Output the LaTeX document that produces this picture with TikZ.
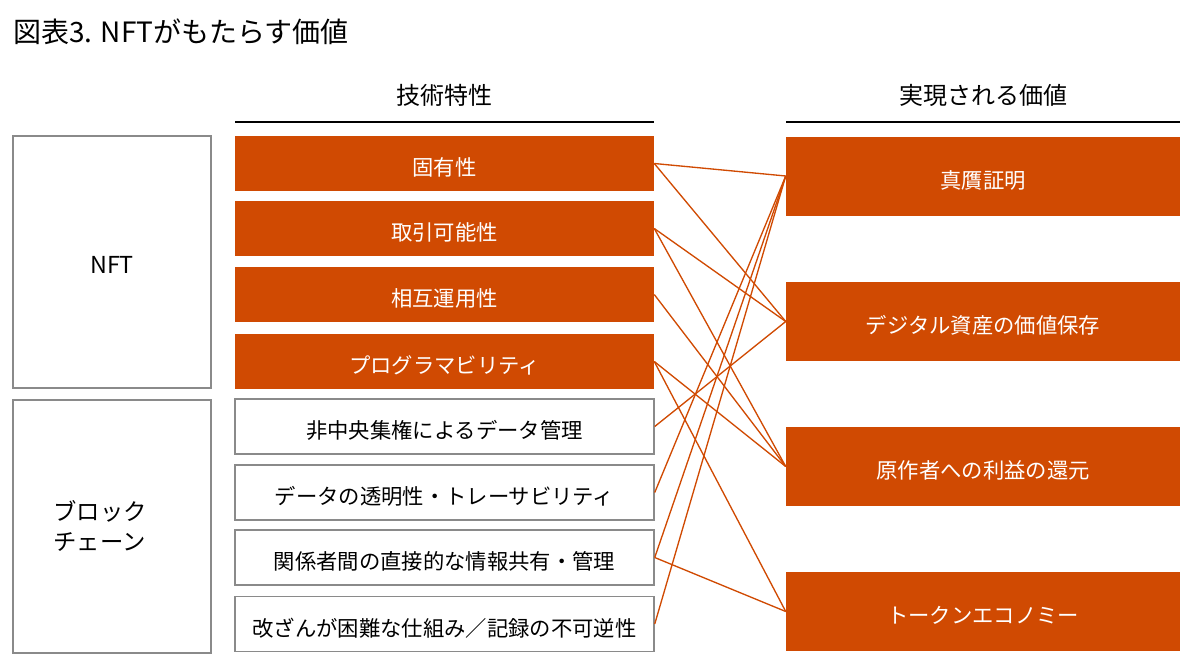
\documentclass[tikz,border=0pt]{standalone}
\usepackage{fontspec}
\setmainfont{Noto Sans CJK JP}
\definecolor{pwcorange}{RGB}{208,74,2}
\definecolor{boxgray}{RGB}{138,138,138}
\begin{document}
\begin{tikzpicture}[x=0.75pt,y=-0.75pt,
  txt/.style={font=\fontsize{16}{18}\selectfont, inner sep=0pt, text height=18pt, text depth=0pt},
  midfill/.style={txt, fill=pwcorange, text=white, minimum width=419*0.75pt, minimum height=55*0.75pt},
  midwhite/.style={txt, draw=boxgray, line width=1.1pt, fill=white, text=black, minimum width=419*0.75pt, minimum height=55*0.75pt},
  rightbox/.style={txt, fill=pwcorange, text=white, minimum width=394*0.75pt, minimum height=79*0.75pt},
  leftbox/.style={draw=boxgray, line width=1.1pt, fill=white, minimum width=198*0.75pt, inner sep=0pt},
  lefttxt/.style={font=\fontsize{17.5}{22}\selectfont, inner sep=0pt},
  header/.style={font=\fontsize{18}{22}\selectfont, inner sep=0pt},
  conn/.style={draw=pwcorange, line width=1pt},
  rule/.style={draw=black, line width=1.5pt}]
\useasboundingbox (0,0) rectangle (1200,668);

% title
\node[anchor=west, inner sep=0pt, font=\fontsize{21}{24}\selectfont] (title) at (13,32) {図表3. NFTがもたらす価値};

% headers
\node[header] (h1) at (444.5,95) {技術特性};
\node[header] (h2) at (983,95) {実現される価値};
\coordinate (r1a) at (235,122); \coordinate (r1b) at (654,122);
\coordinate (r2a) at (786,122); \coordinate (r2b) at (1180,122);
\draw[rule] (r1a) -- (r1b);
\draw[rule] (r2a) -- (r2b);

% left boxes
\node[leftbox, minimum height=252*0.75pt] (nft) at (112,262) {};
\node[lefttxt] (nfttext) at (112,265) {NFT};
\node[leftbox, minimum height=253*0.75pt] (bc) at (112,526.5) {};
\node[lefttxt, align=left] (bctext) at (100,526) {ブロック\\チェーン};

% middle boxes
\node[midfill] (m1) at (444.5,163.5) {固有性};
\node[midfill] (m2) at (444.5,228.5) {取引可能性};
\node[midfill] (m3) at (444.5,294.5) {相互運用性};
\node[midfill] (m4) at (444.5,361.5) {プログラマビリティ};
\node[midwhite] (m5) at (444.5,426.5) {非中央集権によるデータ管理};
\node[midwhite] (m6) at (444.5,492.5) {データの透明性・トレーサビリティ};
\node[midwhite] (m7) at (444.5,557.5) {関係者間の直接的な情報共有・管理};
\node[midwhite] (m8) at (444.5,624) {改ざんが困難な仕組み／記録の不可逆性};

% right boxes
\node[rightbox] (rA) at (983,176) {真贋証明};
\node[rightbox] (rB) at (983,321.5) {デジタル資産の価値保存};
\node[rightbox] (rC) at (983,466.5) {原作者への利益の還元};
\node[rightbox] (rD) at (983,611.5) {トークンエコノミー};

% connectors
\draw[conn] (m1.east) -- (rA.west);
\draw[conn] (m1.east) -- (rB.west);
\draw[conn] (m2.east) -- (rB.west);
\draw[conn] (m2.east) -- (rC.west);
\draw[conn] (m3.east) -- (rC.west);
\draw[conn] (m4.east) -- (rC.west);
\draw[conn] (m4.east) -- (rD.west);
\draw[conn] (m5.east) -- (rB.west);
\draw[conn] (m6.east) -- (rA.west);
\draw[conn] (m7.east) -- (rA.west);
\draw[conn] (m7.east) -- (rD.west);
\draw[conn] (m8.east) -- (rA.west);
\end{tikzpicture}
\end{document}
